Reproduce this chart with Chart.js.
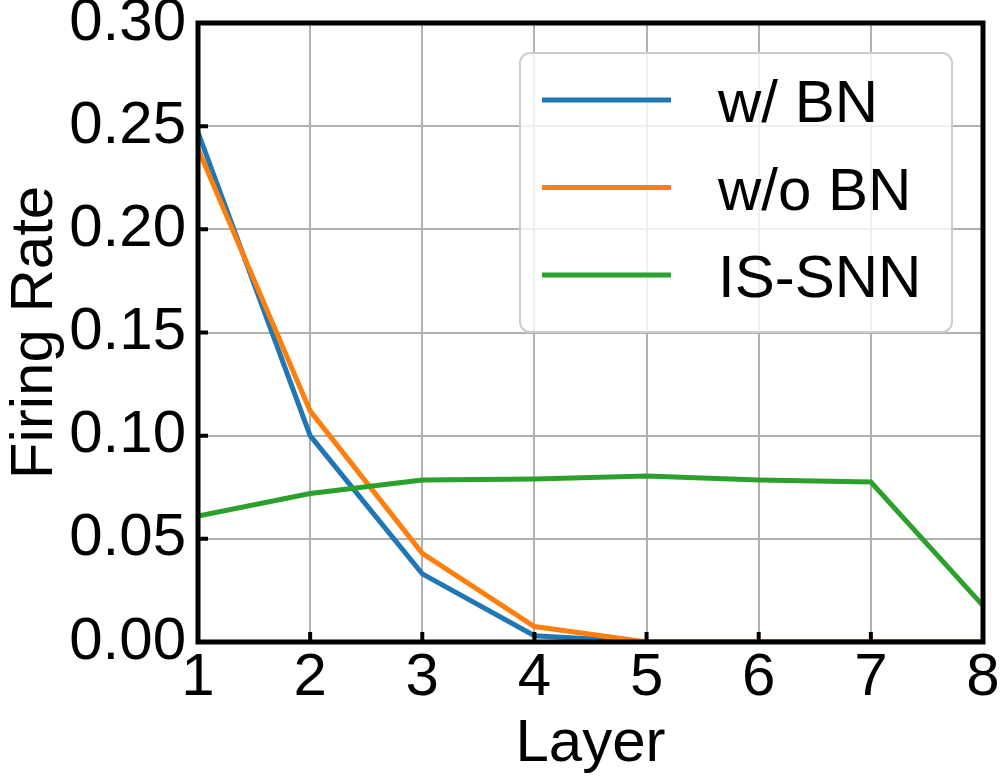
<!DOCTYPE html>
<html>
<head>
<meta charset="utf-8">
<script src="https://cdn.jsdelivr.net/npm/chart.js@4/dist/chart.umd.min.js"></script>
<style>
  html, body { margin: 0; padding: 0; background: #fff; }
  #chart { display: block; }
</style>
</head>
<body>
<canvas id="chart" width="1000" height="780"></canvas>
<script>
// data
const layers = [1, 2, 3, 4, 5, 6, 7, 8];
const withBN = [0.247, 0.100, 0.033, 0.003, 0.0, 0.0, 0.0, 0.0];
const withoutBN = [0.239, 0.112, 0.043, 0.0075, 0.0, 0.0, 0.0, 0.0];
const isSNN = [0.061, 0.072, 0.0785, 0.079, 0.0805, 0.0785, 0.0775, 0.0176];
const seriesNames = ["w/ BN", "w/o BN", "IS-SNN"];
const seriesColors = ["#1f77b4", "#ff7f0e", "#2ca02c"];

const FONT = "'Liberation Sans', Arial, Helvetica, sans-serif";
Chart.defaults.font.family = FONT;
Chart.defaults.color = "#000";

const toPoints = arr => arr.map((v, i) => ({ x: layers[i], y: v }));

// black frame + inward ticks (matplotlib style)
const framePlugin = {
  id: "frame",
  afterDatasetsDraw(chart) {
    const { ctx, chartArea: a, scales } = chart;
    ctx.save();
    ctx.strokeStyle = "#000";
    ctx.lineWidth = 4;
    ctx.beginPath();
    layers.forEach(v => {
      const x = scales.x.getPixelForValue(v);
      ctx.moveTo(x, a.bottom);
      ctx.lineTo(x, a.bottom - 10);
    });
    scales.y.ticks.forEach(t => {
      const y = scales.y.getPixelForValue(t.value);
      ctx.moveTo(a.left, y);
      ctx.lineTo(a.left + 10, y);
    });
    ctx.stroke();
    ctx.lineWidth = 5;
    ctx.strokeRect(a.left, a.top, a.right - a.left, a.bottom - a.top);
    ctx.restore();
  }
};

// legend box in the upper right, like the original
const legendPlugin = {
  id: "boxLegend",
  afterDraw(chart) {
    const { ctx } = chart;
    const bx = 520, by = 53, bw = 432, bh = 279, r = 10;
    ctx.save();
    ctx.beginPath();
    ctx.roundRect(bx, by, bw, bh, r);
    ctx.fillStyle = "rgba(255,255,255,0.8)";
    ctx.fill();
    ctx.lineWidth = 2;
    ctx.strokeStyle = "#cccccc";
    ctx.stroke();
    ctx.font = "60px " + FONT;
    ctx.textBaseline = "alphabetic";
    ctx.textAlign = "left";
    chart.data.datasets.forEach((ds, i) => {
      const y = 100 + i * 87.5;
      ctx.strokeStyle = ds.borderColor;
      ctx.lineWidth = 5;
      ctx.beginPath();
      ctx.moveTo(542, y);
      ctx.lineTo(671, y);
      ctx.stroke();
      ctx.fillStyle = "#000";
      ctx.fillText(ds.label, 718, y + 22);
    });
    ctx.restore();
  }
};

new Chart(document.getElementById("chart"), {
  type: "line",
  data: {
    datasets: [
      { label: seriesNames[0], data: toPoints(withBN), borderColor: seriesColors[0], order: 2 },
      { label: seriesNames[1], data: toPoints(withoutBN), borderColor: seriesColors[1], order: 1 },
      { label: seriesNames[2], data: toPoints(isSNN), borderColor: seriesColors[2], order: 0 },
    ],
  },
  options: {
    responsive: false,
    animation: false,
    layout: { padding: { top: 23, right: 17, left: 0, bottom: 0 } },
    elements: {
      line: { borderWidth: 5, tension: 0, fill: false, borderJoinStyle: "miter" },
      point: { radius: 0, hoverRadius: 0 },
    },
    plugins: {
      legend: { display: false },
      tooltip: { enabled: false },
    },
    scales: {
      x: {
        type: "linear",
        min: 1,
        max: 8,
        ticks: { stepSize: 1, font: { size: 60 }, padding: 0, maxRotation: 0, color: "#000" },
        grid: { color: "#b0b0b0", lineWidth: 2, drawTicks: false },
        border: { display: false },
        title: { display: true, text: "Layer", font: { size: 60, lineHeight: 1 }, padding: { top: 0, bottom: 6 }, color: "#000" },
        afterFit(scale) {
          scale.height = 138;
          scale.paddingLeft = 0;
          scale.paddingRight = 0;
        },
      },
      y: {
        min: 0,
        max: 0.3,
        ticks: { stepSize: 0.05, font: { size: 60 }, padding: 12, color: "#000", callback: v => v.toFixed(2) },
        grid: { color: "#b0b0b0", lineWidth: 2, drawTicks: false },
        border: { display: false },
        title: { display: true, text: "Firing Rate", font: { size: 60, lineHeight: 1 }, padding: { top: 5, bottom: 0 }, color: "#000" },
        afterFit(scale) {
          scale.width = 198;
          scale.paddingTop = 0;
          scale.paddingBottom = 0;
        },
      },
    },
  },
  plugins: [framePlugin, legendPlugin],
});
</script>
</body>
</html>
